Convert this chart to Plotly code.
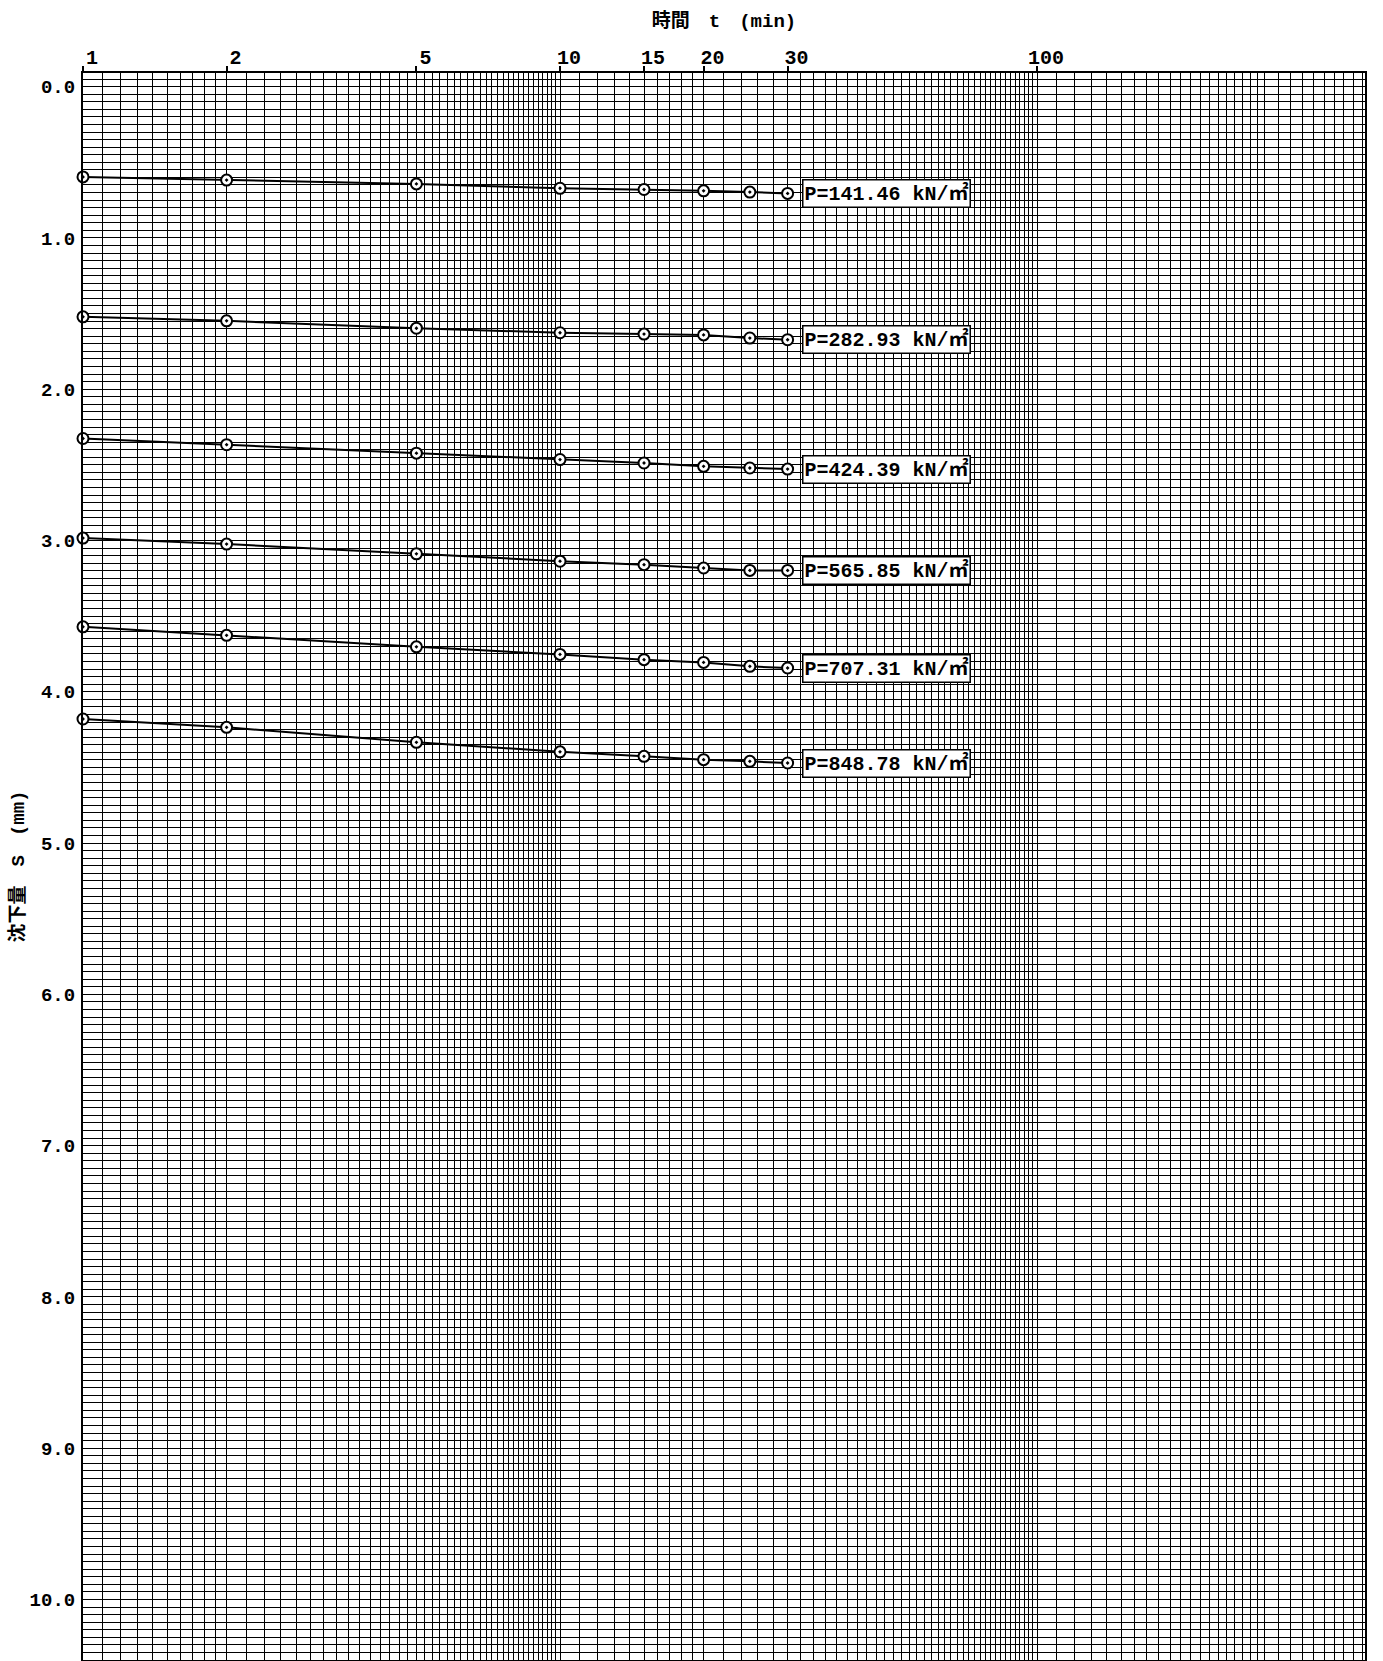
import numpy as np
import plotly.graph_objects as go

# ---------------- data ----------------
time_min = [1, 2, 5, 10, 15, 20, 25, 30]

load_labels = [
    "P=141.46 kN/㎡",
    "P=282.93 kN/㎡",
    "P=424.39 kN/㎡",
    "P=565.85 kN/㎡",
    "P=707.31 kN/㎡",
    "P=848.78 kN/㎡",
]

s_p141 = [0.597, 0.618, 0.643, 0.672, 0.680, 0.689, 0.697, 0.706]
s_p283 = [1.522, 1.548, 1.597, 1.627, 1.636, 1.641, 1.662, 1.673]
s_p424 = [2.326, 2.367, 2.423, 2.465, 2.488, 2.510, 2.521, 2.528]
s_p566 = [2.984, 3.024, 3.088, 3.137, 3.160, 3.182, 3.198, 3.198]
s_p707 = [3.571, 3.627, 3.703, 3.753, 3.788, 3.806, 3.832, 3.843]
s_p849 = [4.180, 4.235, 4.334, 4.397, 4.427, 4.449, 4.460, 4.471]

settlements = [s_p141, s_p283, s_p424, s_p566, s_p707, s_p849]

x_tick_vals = [1, 2, 5, 10, 15, 20, 30, 100]
x_tick_text = ["1", "2", "5", "10", "15", "20", "30", "100"]
y_tick_vals = [0, 1, 2, 3, 4, 5, 6, 7, 8, 9, 10]
y_tick_text = ["0.0", "1.0", "2.0", "3.0", "4.0", "5.0", "6.0", "7.0", "8.0", "9.0", "10.0"]

x_title = "時間　t　(min)"
y_title = "沈下量　S　(mm)"

# ---------------- paper (graph-paper rulings) ----------------
X_MAX = 487.0
Y_TOP, Y_BOTTOM = -0.09, 10.40

grid_x = []
for d in (1, 10):
    grid_x += [round(d * v, 4) for v in np.arange(1.1, 2.0001, 0.1)]
    grid_x += [round(d * v, 4) for v in np.arange(2.2, 10.0001, 0.2)]
grid_x += [float(v) for v in np.arange(110, 300.5, 10)]
grid_x += [float(v) for v in np.arange(320, X_MAX, 20)]

FONT = "Liberation Mono, Noto Sans CJK JP, monospace"
INK = "black"

fig = go.Figure()

for s, lab in zip(settlements, load_labels):
    fig.add_trace(go.Scatter(
        x=time_min, y=s, mode="lines+markers", name=lab,
        line=dict(color=INK, width=2),
        marker=dict(symbol="circle-dot", size=11, color="white",
                    line=dict(color=INK, width=2)),
        cliponaxis=False,
        showlegend=False,
    ))
    fig.add_annotation(
        x=np.log10(time_min[-1]), y=s[-1], xref="x", yref="y",
        text=lab, showarrow=False, xanchor="left", yanchor="middle",
        xshift=14, bgcolor="white", bordercolor=INK, borderwidth=1.5,
        borderpad=1, font=dict(family=FONT, size=20, color=INK, weight="bold"),
    )

fig.update_layout(
    width=1383, height=1661,
    margin=dict(l=83, r=18, t=73, b=1, autoexpand=False),
    paper_bgcolor="white", plot_bgcolor="white",
    showlegend=False,
    xaxis=dict(
        type="log", range=[0, np.log10(X_MAX)], side="top",
        tickmode="array", tickvals=x_tick_vals, ticktext=x_tick_text,
        ticks="outside", ticklen=5, tickwidth=1.5, tickcolor=INK,
        ticklabelshift=9, ticklabelstandoff=-6,
        tickfont=dict(family=FONT, size=20, color=INK, weight="bold"),
        showgrid=True, gridcolor=INK, gridwidth=1,
        showline=True, linecolor=INK, linewidth=2, mirror=True,
        minor=dict(tickmode="array", tickvals=grid_x, showgrid=True,
                   gridcolor=INK, gridwidth=1, ticks=""),
        title=dict(text=x_title, font=dict(family=FONT, size=19, color=INK, weight="bold"),
                   standoff=14),
    ),
    xaxis2=dict(
        type="log", range=[0, np.log10(X_MAX)], overlaying="x", anchor="y",
        side="top", tickmode="array", tickvals=[1, 10, 100],
        showticklabels=False, ticks="", showline=False,
        showgrid=True, gridcolor=INK, gridwidth=3,
    ),
    yaxis=dict(
        range=[Y_BOTTOM, Y_TOP],
        tickmode="array", tickvals=y_tick_vals, ticktext=y_tick_text,
        ticks="", ticklabelstandoff=2,
        tickfont=dict(family=FONT, size=19, color=INK, weight="bold"),
        showgrid=True, gridcolor=INK, gridwidth=1, zeroline=False,
        showline=True, linecolor=INK, linewidth=2, mirror=True,
        minor=dict(tick0=0, dtick=0.05, showgrid=True, gridcolor=INK,
                   gridwidth=1, ticks=""),
        title=dict(text=y_title, font=dict(family=FONT, size=19, color=INK, weight="bold"),
                   standoff=0),
    ),
)

fig.write_html("out.html")
